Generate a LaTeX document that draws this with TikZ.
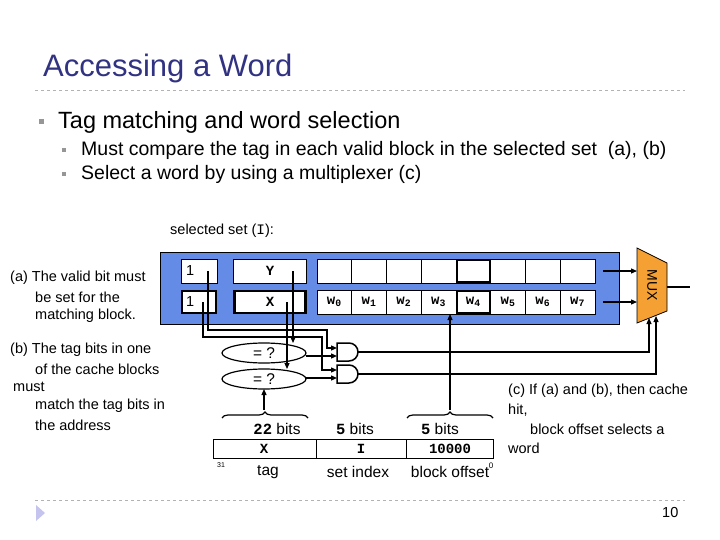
\documentclass[tikz,border=0pt]{standalone}
\usepackage{fontspec}
\setmainfont{Liberation Sans}
\setmonofont{Liberation Mono}
\usetikzlibrary{arrows.meta,decorations.pathreplacing}
\definecolor{titleblue}{RGB}{50,50,130}
\definecolor{setblue}{RGB}{100,140,230}
\definecolor{muxor}{RGB}{245,160,50}
\definecolor{bulletgray}{RGB}{150,150,150}
\tikzset{
  cell/.style={draw,fill=white,line width=0.8pt,inner sep=0pt},
  thick cell/.style={draw,fill=white,line width=2.5pt,inner sep=0pt},
  wire/.style={line width=1.2pt},
  arr/.style={line width=1.2pt,-{Triangle[length=6pt,width=5pt]}},
  lbl/.style={anchor=west,inner sep=0pt,font=\fontsize{14.5}{17}\selectfont},
  mid/.style={inner sep=0pt,font=\fontsize{15.5}{18}\selectfont},
  dash line/.style={draw=gray!60,dashed,line width=0.6pt},
  tt/.style={font=\ttfamily\bfseries\fontsize{14}{16}\selectfont,inner sep=0pt},
  bul/.style={fill=bulletgray,minimum size=5pt,inner sep=0pt}
}
\begin{document}
\begin{tikzpicture}[x=1pt,y=-1pt]
\useasboundingbox (0,0) rectangle (720,540);
% title
\node[anchor=west,text=titleblue,font=\fontsize{31}{34}\selectfont,inner sep=0pt] (title) at (43,68) {Accessing a Word};
\draw[dash line] (35,90) -- (685,90);
\draw[dash line] (35,500) -- (685,500);
\fill[gray!45!blue!30] (36,505) -- (45,513) -- (36,521) -- cycle;
\node[lbl] (pg) at (662,513) {10};
% bullets
\node[bul] (b1) at (41,122) {};
\node[anchor=west,inner sep=0pt,font=\fontsize{23.5}{26}\selectfont] (t1) at (58,122) {Tag matching and word selection};
\node[bul,minimum size=4pt] (b2) at (64,150) {};
\node[anchor=west,inner sep=0pt,font=\fontsize{19.5}{22}\selectfont] (t2) at (81,150) {Must compare the tag in each valid block in the selected set\ \ (a), (b)};
\node[bul,minimum size=4pt] (b3) at (64,174) {};
\node[anchor=west,inner sep=0pt,font=\fontsize{19.5}{22}\selectfont] (t3) at (81,174) {Select a word by using a multiplexer (c)};
\node[lbl] (sel) at (170,231) {selected set ({\ttfamily I}):};
% left labels
\node[lbl] (a1) at (10,278) {(a) The valid bit must};
\node[lbl] (a2) at (35,297) {be set for the};
\node[lbl] (a3) at (35,316) {matching block.};
\node[lbl] (bb1) at (10,350) {(b) The tag bits in one};
\node[lbl] (bb2) at (35,369) {of the cache blocks};
\node[lbl] (bb3) at (13,387) {must};
\node[lbl] (bb4) at (35,406) {match the tag bits in};
\node[lbl] (bb5) at (35,425) {the address};
\node[lbl] (c1) at (508,391) {(c) If (a) and (b), then cache};
\node[lbl] (c2) at (508,410) {hit,};
\node[lbl] (c3) at (530,429) {block offset selects a};
\node[lbl] (c4) at (508,448) {word};
% selected set
\draw[fill=setblue,line width=0.8pt] (160,252) rectangle (619,324);
\node[cell,minimum width=36pt,minimum height=24pt] (v1) at (199,271) {};
\node[lbl] at (186,271) {1};
\node[thick cell,minimum width=34pt,minimum height=22pt] (v2) at (199,302) {};
\node[lbl] at (186,302) {1};
\node[cell,minimum width=73pt,minimum height=24pt,tt] (tY) at (270,271) {Y};
\node[thick cell,minimum width=71pt,minimum height=22pt,tt] (tX) at (270,302) {X};
\foreach \i in {0,...,7}{
  \pgfmathsetmacro{\cx}{317+34.75*\i+17.375}
  \node[cell,minimum width=34.75pt,minimum height=24pt] (r\i) at (\cx,271) {};
  \node[cell,minimum width=34.75pt,minimum height=24pt,tt] (w\i) at (\cx,302) {w\textsubscript{\i}};
}
\node[thick cell,minimum width=33pt,minimum height=22pt] (r4b) at (r4) {};
\node[thick cell,minimum width=33pt,minimum height=22pt,tt] (w4b) at (w4) {w\textsubscript{4}};
% mux
\draw[fill=muxor,line width=0.8pt] (637,248) -- (667,263) -- (667,311) -- (637,323) -- cycle;
\node[rotate=-90,font=\fontsize{14}{16}\selectfont,inner sep=0pt] (mux) at (652,285) {MUX};
\coordinate (muxout) at (690,287);
\draw[wire] (667,287) -- (muxout);
\draw[arr] (603,271) -- (637,271);
\draw[arr] (603,302) -- (637,302);
% comparators
\draw[line width=1.2pt] (264,353) ellipse (42pt and 10pt);
\node[mid] (eq1) at (264,353) {= ?};
\draw[line width=1.2pt] (264,379) ellipse (42pt and 10pt);
\node[mid] (eq2) at (264,379) {= ?};
% and gates
\draw[line width=1.5pt] (337,343) -- (349,343) arc (-90:90:9) -- (337,361) -- cycle;
\draw[line width=1.5pt] (337,365) -- (349,365) arc (-90:90:9) -- (337,383) -- cycle;
% wires
\draw[arr] (208,271) -- (208,330) -- (327,330) -- (327,348) -- (337,348);
\draw[arr] (203,302) -- (203,337) -- (322,337) -- (322,370) -- (337,370);
\draw[arr] (293,271) -- (293,343);
\draw[arr] (287,302) -- (287,369);
\draw[arr] (306,356) -- (337,356);
\draw[arr] (306,378) -- (337,378);
\draw[arr] (358,352) -- (649,352) -- (649,318);
\draw[arr] (358,374) -- (656,374) -- (656,316);
% address
\draw[line width=1pt] (213,439) rectangle (493,458);
\draw[line width=1pt] (316,439) -- (316,458) (406,439) -- (406,458);
\node[tt] (ax) at (264,449) {X};
\node[tt] (ai) at (361,449) {I};
\node[tt] (ao) at (450,449) {10000};
\node[mid] (lb1) at (277,429) {{\ttfamily\bfseries 22} bits};
\node[mid] (lb2) at (355,429) {{\ttfamily\bfseries 5} bits};
\node[mid] (lb3) at (440,429) {{\ttfamily\bfseries 5} bits};
\node[mid] (n1) at (268,472) {tag};
\node[mid] (n2) at (358,472) {set index};
\node[mid] (n3) at (450,472) {block offset};
\node[font=\fontsize{7}{8}\selectfont] (n31) at (221,465) {31};
\node[font=\fontsize{8}{9}\selectfont] (n0) at (491,466) {0};
% braces
\draw[line width=1.2pt,decorate,decoration={brace,amplitude=6pt}] (222,418) -- (308,418);
\draw[line width=1.2pt,decorate,decoration={brace,amplitude=6pt}] (407,418) -- (493,418);
\draw[arr] (264,410) -- (264,389);
\draw[arr] (450,410) -- (450,314);
\end{tikzpicture}
\end{document}
